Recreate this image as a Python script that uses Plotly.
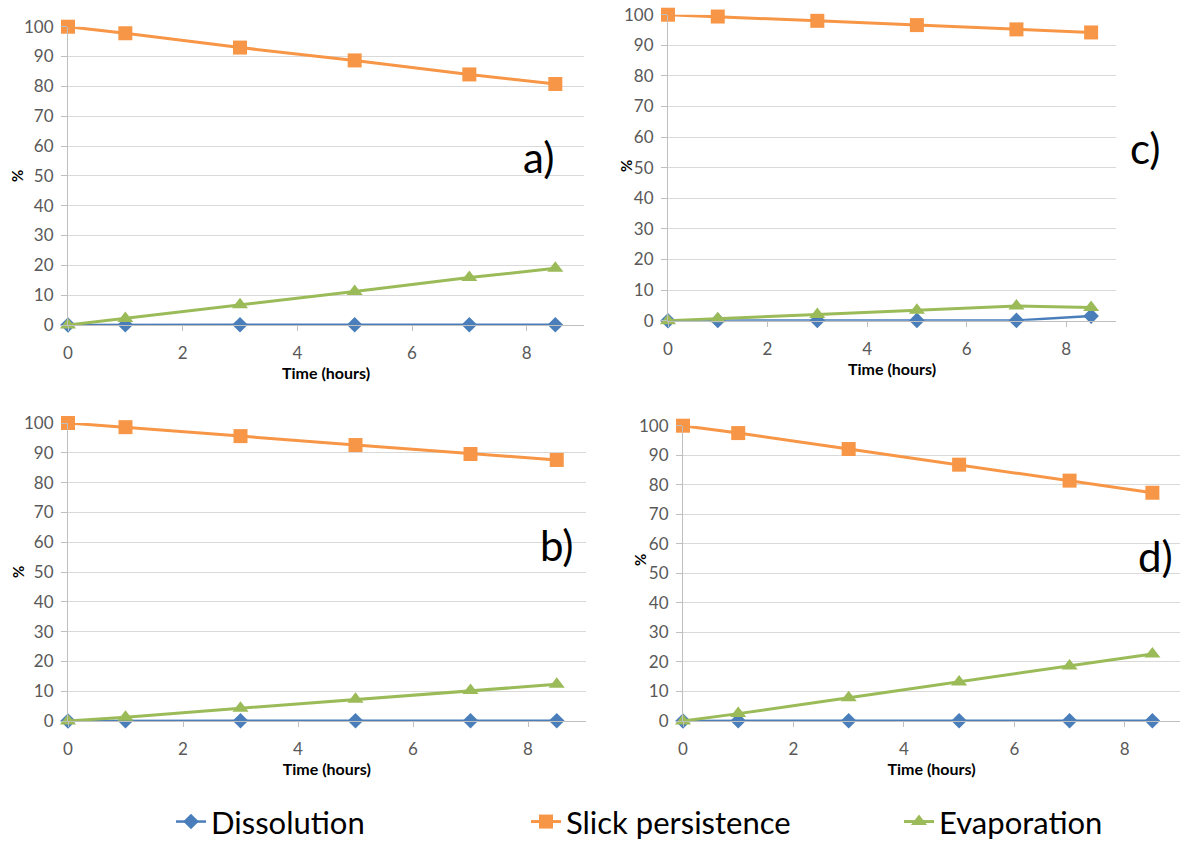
import plotly.graph_objects as go

# ---------------- data ----------------
time_h = [0, 1, 3, 5, 7, 8.5]

a_dissolution = [0, 0.1, 0.1, 0.1, 0.1, 0.1]
a_slick = [100, 97.8, 93.0, 88.7, 84.0, 80.8]
a_evaporation = [0, 2.2, 6.8, 11.2, 15.9, 19.0]

b_dissolution = [0, 0.1, 0.1, 0.1, 0.1, 0.1]
b_slick = [100, 98.6, 95.6, 92.6, 89.6, 87.6]
b_evaporation = [0, 1.3, 4.3, 7.3, 10.2, 12.3]

c_dissolution = [0, 0.1, 0.1, 0.1, 0.1, 1.5]
c_slick = [100, 99.4, 98.0, 96.6, 95.2, 94.2]
c_evaporation = [0, 0.6, 2.0, 3.4, 4.8, 4.3]

d_dissolution = [0, 0.1, 0.1, 0.1, 0.1, 0.1]
d_slick = [100, 97.5, 92.1, 86.8, 81.4, 77.3]
d_evaporation = [0, 2.5, 7.9, 13.2, 18.6, 22.7]

series_names = ["Dissolution", "Slick persistence", "Evaporation"]
panel_labels = ["a)", "b)", "c)", "d)"]
x_ticks = [0, 2, 4, 6, 8]
x_title = "Time (hours)"
y_title = "%"

# ---------------- styling ----------------
W, H = 1182, 843
FONT = "Lato, 'Open Sans', sans-serif"
colors = ["#4A7EBB", "#F79646", "#9BBB59"]
symbols = ["diamond", "square", "triangle-up"]
msizes = [12, 14, 14]
lwidths = [2.5, 3, 3]


def px_x(p):
    return p / W


def px_y(p):
    return 1 - p / H


# panel geometry in pixels: (x_left, x_right, y_top(100), y_bottom(0))
panels = {
    "a": (68, 584, 26.7, 325),
    "b": (68, 585.5, 423, 721),
    "c": (668, 1116, 14.7, 320.7),
    "d": (683, 1180, 425.7, 721),
}
panel_data = {
    "a": (a_dissolution, a_slick, a_evaporation),
    "b": (b_dissolution, b_slick, b_evaporation),
    "c": (c_dissolution, c_slick, c_evaporation),
    "d": (d_dissolution, d_slick, d_evaporation),
}
label_pos = {"a": (538, 157), "b": (557, 545), "c": (1145, 148), "d": (1155, 556)}
ytitle_pos = {"a": (17, 176), "b": (18, 572), "c": (626, 166), "d": (640, 560)}

fig = go.Figure()
layout = {}
annotations = []
legend_names = ["legend", "legend2", "legend3"]

for i, key in enumerate(["a", "b", "c", "d"]):
    n = "" if i == 0 else str(i + 1)
    xl, xr, yt, yb = panels[key]
    layout["xaxis" + n] = dict(
        domain=[px_x(xl), px_x(xr)],
        anchor="y" + n,
        range=[0, 9],
        tickvals=x_ticks,
        ticks="outside",
        ticklen=5,
        tickcolor="#BFBFBF",
        ticklabelstandoff=8,
        showline=True,
        linecolor="#BFBFBF",
        linewidth=1,
        showgrid=False,
        zeroline=False,
        automargin=False,
        tickfont=dict(family=FONT, size=17, color="#595959"),
        title=dict(text="<b>" + x_title + "</b>", standoff=0,
                   font=dict(family=FONT, size=16, color="#000000")),
        fixedrange=True,
    )
    layout["yaxis" + n] = dict(
        domain=[px_y(yb), px_y(yt)],
        anchor="x" + n,
        range=[0, 100],
        dtick=10,
        ticks="outside",
        ticklen=6,
        tickcolor="#BFBFBF",
        ticklabelstandoff=4,
        showline=True,
        linecolor="#BFBFBF",
        linewidth=1,
        showgrid=True,
        gridcolor="#D9D9D9",
        gridwidth=1,
        zeroline=False,
        automargin=False,
        tickfont=dict(family=FONT, size=17, color="#595959"),
        fixedrange=True,
    )
    for j, vals in enumerate(panel_data[key]):
        fig.add_trace(go.Scatter(
            x=time_h, y=vals, mode="lines+markers",
            name=series_names[j],
            line=dict(color=colors[j], width=lwidths[j]),
            marker=dict(symbol=symbols[j], size=msizes[j], color=colors[j]),
            xaxis="x" + n, yaxis="y" + n,
            cliponaxis=False,
            showlegend=(i == 0),
            legend=legend_names[j],
        ))
    lx, ly = label_pos[key]
    annotations.append(dict(
        text=panel_labels[i], x=px_x(lx), y=px_y(ly), xref="paper", yref="paper",
        xanchor="center", yanchor="middle", showarrow=False,
        font=dict(family=FONT, size=42, color="#000000"),
    ))
    tx, ty = ytitle_pos[key]
    annotations.append(dict(
        text="<b>" + y_title + "</b>", x=px_x(tx), y=px_y(ty), xref="paper", yref="paper",
        xanchor="center", yanchor="middle", showarrow=False, textangle=-90,
        font=dict(family=FONT, size=15, color="#000000"),
    ))

legend_x_px = [171, 526, 899]
for j, ln in enumerate(legend_names):
    layout[ln] = dict(
        x=px_x(legend_x_px[j]), y=-0.007, xanchor="left", yanchor="bottom",
        xref="paper", yref="paper",
        orientation="h", bgcolor="rgba(0,0,0,0)",
        font=dict(family=FONT, size=31, color="#000000"),
    )

fig.update_layout(
    width=W, height=H,
    margin=dict(l=0, r=0, t=0, b=0, autoexpand=False),
    paper_bgcolor="white", plot_bgcolor="white",
    annotations=annotations,
    **layout,
)

fig.write_html("out.html", config={"displayModeBar": False},
               post_script="document.body.style.margin='0px';")
